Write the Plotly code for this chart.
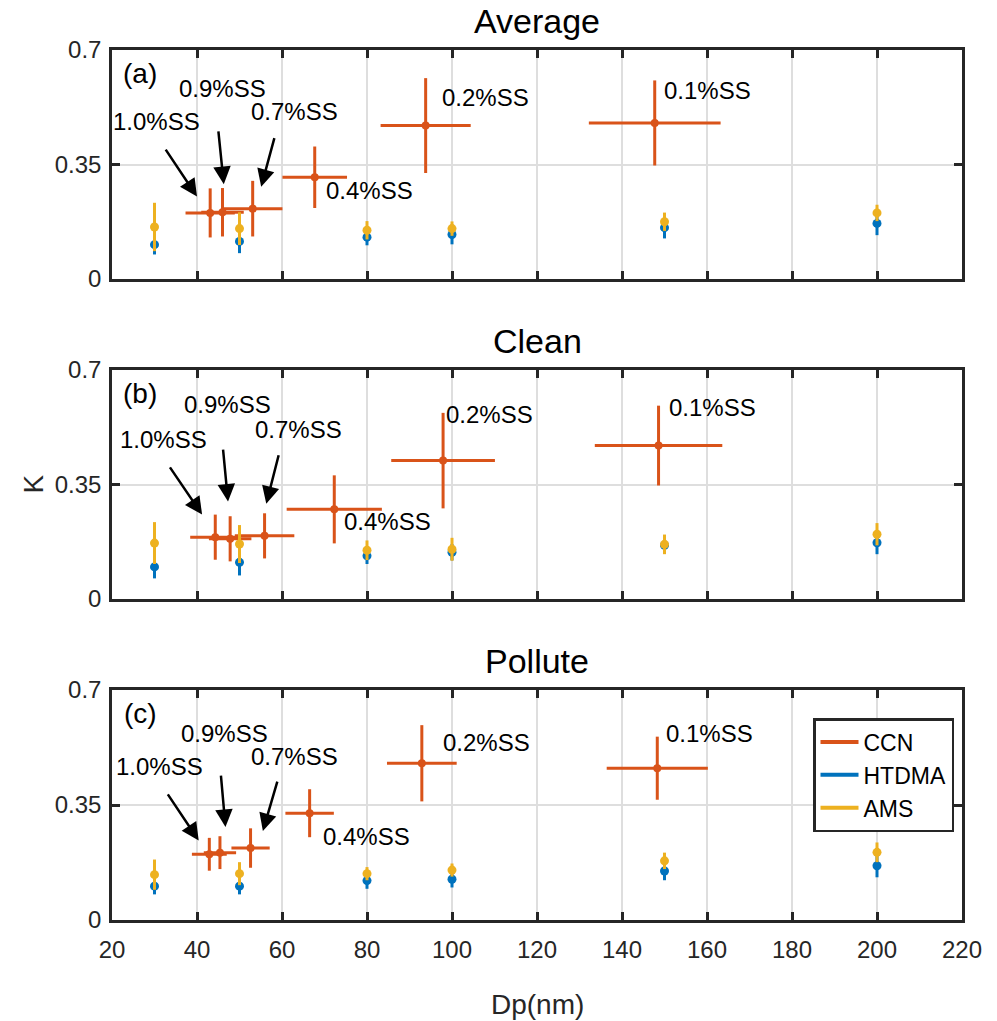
import plotly.graph_objects as go

# ---------------- data ----------------
dp_ref = [30, 50, 80, 100, 150, 200]
ss_labels = ["1.0%SS", "0.9%SS", "0.7%SS", "0.4%SS", "0.2%SS", "0.1%SS"]

# Average
avg_ccn_x = [43.1, 46.0, 53.1, 67.7, 93.8, 147.7]
avg_ccn_xerr = [5.8, 5.0, 7.0, 7.6, 10.6, 15.5]
avg_ccn_k = [0.202, 0.204, 0.215, 0.311, 0.469, 0.477]
avg_ccn_kerr = [0.075, 0.074, 0.085, 0.094, 0.145, 0.130]
avg_htdma_k = [0.105, 0.115, 0.128, 0.136, 0.157, 0.170]
avg_htdma_err = [0.030, 0.036, 0.025, 0.030, 0.033, 0.036]
avg_ams_k = [0.159, 0.154, 0.149, 0.154, 0.175, 0.202]
avg_ams_err = [0.074, 0.050, 0.028, 0.022, 0.028, 0.025]

# Clean
cln_ccn_x = [44.3, 47.8, 55.9, 72.3, 97.9, 148.6]
cln_ccn_xerr = [5.9, 5.0, 7.0, 11.2, 12.2, 15.0]
cln_ccn_k = [0.189, 0.184, 0.193, 0.274, 0.423, 0.469]
cln_ccn_kerr = [0.069, 0.069, 0.069, 0.104, 0.146, 0.122]
cln_htdma_k = [0.098, 0.112, 0.132, 0.143, 0.164, 0.172]
cln_htdma_err = [0.035, 0.040, 0.025, 0.025, 0.025, 0.035]
cln_ams_k = [0.171, 0.168, 0.149, 0.152, 0.167, 0.198]
cln_ams_err = [0.064, 0.058, 0.030, 0.035, 0.030, 0.034]

# Pollute
pol_ccn_x = [42.9, 45.4, 52.6, 66.5, 92.9, 148.3]
pol_ccn_xerr = [4.1, 3.8, 4.5, 5.7, 8.2, 11.9]
pol_ccn_k = [0.200, 0.205, 0.219, 0.325, 0.477, 0.462]
pol_ccn_kerr = [0.050, 0.050, 0.060, 0.073, 0.116, 0.096]
pol_htdma_k = [0.103, 0.103, 0.120, 0.124, 0.149, 0.165]
pol_htdma_err = [0.025, 0.025, 0.025, 0.025, 0.028, 0.035]
pol_ams_k = [0.138, 0.141, 0.141, 0.152, 0.180, 0.206]
pol_ams_err = [0.046, 0.035, 0.020, 0.020, 0.025, 0.030]

x_ticks = [20, 40, 60, 80, 100, 120, 140, 160, 180, 200, 220]
y_ticks = [0, 0.35, 0.7]
y_tick_text = ["0", "0.35", "0.7"]

panels = [
    ("Average", "(a)", avg_ccn_x, avg_ccn_xerr, avg_ccn_k, avg_ccn_kerr,
     avg_htdma_k, avg_htdma_err, avg_ams_k, avg_ams_err),
    ("Clean", "(b)", cln_ccn_x, cln_ccn_xerr, cln_ccn_k, cln_ccn_kerr,
     cln_htdma_k, cln_htdma_err, cln_ams_k, cln_ams_err),
    ("Pollute", "(c)", pol_ccn_x, pol_ccn_xerr, pol_ccn_k, pol_ccn_kerr,
     pol_htdma_k, pol_htdma_err, pol_ams_k, pol_ams_err),
]

# ---------------- layout config (positions of labels/arrows) ----------------
label_pos = [
    [(30.5, 0.481), (46.1, 0.583), (63.0, 0.512), (80.5, 0.270), (107.8, 0.556), (160.0, 0.577)],
    [(32.0, 0.487), (47.1, 0.594), (63.8, 0.517), (84.9, 0.236), (108.9, 0.564), (161.2, 0.584)],
    [(31.1, 0.468), (46.4, 0.568), (63.0, 0.497), (79.8, 0.253), (108.2, 0.541), (160.5, 0.567)],
]
arrow_pos = [
    [(32.4, 0.400, 40.0, 0.252), (45.0, 0.456, 46.3, 0.290), (58.3, 0.435, 55.1, 0.282)],
    [(33.4, 0.407, 41.2, 0.258), (46.1, 0.461, 47.3, 0.298), (59.3, 0.444, 56.3, 0.291)],
    [(32.9, 0.387, 40.4, 0.242), (45.6, 0.444, 46.7, 0.283), (59.0, 0.426, 55.5, 0.271)],
]

C_CCN = "#D95319"
C_HTDMA = "#0072BD"
C_AMS = "#EDB120"
FONT = "Liberation Sans, Arial, Helvetica, sans-serif"

W, H = 997, 1021
PL, PR = 112, 962
rows_px = [(50, 279), (370, 599), (690, 920)]
ML, MR = PL, W - PR
MT, MB = rows_px[0][0], H - rows_px[2][1]
PH = H - MT - MB
PW = W - ML - MR
domains = [[1 - (b - MT) / PH, 1 - (t - MT) / PH] for t, b in rows_px]

fig = go.Figure()

for i, (title, tag, cx, cxe, ck, cke, hk, he, ak, ae) in enumerate(panels):
    xa = "x" if i == 0 else f"x{i+1}"
    ya = "y" if i == 0 else f"y{i+1}"
    fig.add_trace(go.Scatter(
        x=cx, y=ck, mode="markers", xaxis=xa, yaxis=ya, showlegend=False,
        marker=dict(color=C_CCN, size=8),
        error_x=dict(type="data", array=cxe, color=C_CCN, thickness=3, width=0),
        error_y=dict(type="data", array=cke, color=C_CCN, thickness=3, width=0),
    ))
    fig.add_trace(go.Scatter(
        x=dp_ref, y=hk, mode="markers", xaxis=xa, yaxis=ya, showlegend=False,
        marker=dict(color=C_HTDMA, size=9),
        error_y=dict(type="data", array=he, color=C_HTDMA, thickness=3, width=0),
    ))
    fig.add_trace(go.Scatter(
        x=dp_ref, y=ak, mode="markers", xaxis=xa, yaxis=ya, showlegend=False,
        marker=dict(color=C_AMS, size=9),
        error_y=dict(type="data", array=ae, color=C_AMS, thickness=3, width=0),
    ))

for name, col in [("CCN", C_CCN), ("HTDMA", C_HTDMA), ("AMS", C_AMS)]:
    fig.add_trace(go.Scatter(x=[None], y=[None], mode="lines", name=name,
                             line=dict(color=col, width=4), xaxis="x3", yaxis="y3"))

axis_common = dict(
    showline=True, linewidth=2.5, linecolor="#262626", mirror="ticks",
    ticks="inside", ticklen=8, tickwidth=2.5, tickcolor="#262626",
    showgrid=True, gridcolor="#dedede", gridwidth=2, zeroline=False,
    tickfont=dict(family=FONT, size=24, color="#262626"),
)

layout = dict(
    width=W, height=H, margin=dict(l=ML, r=MR, t=MT, b=MB),
    plot_bgcolor="white", paper_bgcolor="white",
    font=dict(family=FONT, color="#262626"),
    legend=dict(x=(813 - ML) / PW, y=1 - (718 - MT) / PH,
                xanchor="left", yanchor="top", bgcolor="white",
                bordercolor="#262626", borderwidth=2.5,
                font=dict(family=FONT, size=23, color="#000000"),
                tracegroupgap=0, itemwidth=38),
)

annotations = []
for i, (title, tag, *_rest) in enumerate(panels):
    xk = "xaxis" if i == 0 else f"xaxis{i+1}"
    yk = "yaxis" if i == 0 else f"yaxis{i+1}"
    xr = "x" if i == 0 else f"x{i+1}"
    yr = "y" if i == 0 else f"y{i+1}"
    layout[xk] = dict(axis_common, range=[20, 220], tickvals=x_ticks,
                      showticklabels=(i == 2), anchor=yr, domain=[0, 1],
                      ticklabelstandoff=6)
    layout[yk] = dict(axis_common, range=[0, 0.7], tickvals=y_ticks,
                      ticktext=y_tick_text, anchor=xr, domain=domains[i],
                      ticklabelstandoff=3)
    annotations.append(dict(text=title, xref="paper", yref="paper", x=0.5,
                            y=domains[i][1], yanchor="bottom", yshift=8,
                            showarrow=False,
                            font=dict(family=FONT, size=34, color="#000000")))
    annotations.append(dict(text=tag, xref=xr, yref=yr, x=26.6, y=0.629,
                            showarrow=False,
                            font=dict(family=FONT, size=28, color="#000000")))
    for lab, (lx, ly) in zip(ss_labels, label_pos[i]):
        annotations.append(dict(text=lab, xref=xr, yref=yr, x=lx, y=ly,
                                showarrow=False,
                                font=dict(family=FONT, size=24, color="#000000")))
    for (tx, ty, hx, hy) in arrow_pos[i]:
        annotations.append(dict(text="", xref=xr, yref=yr, x=hx, y=hy,
                                axref=xr, ayref=yr, ax=tx, ay=ty,
                                showarrow=True, arrowhead=2, arrowsize=1.4,
                                arrowwidth=2.5, arrowcolor="#000000"))

annotations.append(dict(text="Dp(nm)", xref="paper", yref="paper", x=0.5,
                        y=-(1004 - 920) / PH, yanchor="middle", showarrow=False,
                        font=dict(family=FONT, size=28, color="#262626")))
annotations.append(dict(text="K", xref="paper", yref="paper",
                        x=(33 - ML) / PW, xanchor="center",
                        y=sum(domains[1]) / 2, yanchor="middle", textangle=-90,
                        showarrow=False,
                        font=dict(family=FONT, size=28, color="#262626")))
layout["annotations"] = annotations

fig.update_layout(**layout)
fig.write_html("out.html",
               config={"displayModeBar": False},
               post_script="document.body.style.margin='0';"
                           "document.body.style.overflow='hidden';")
